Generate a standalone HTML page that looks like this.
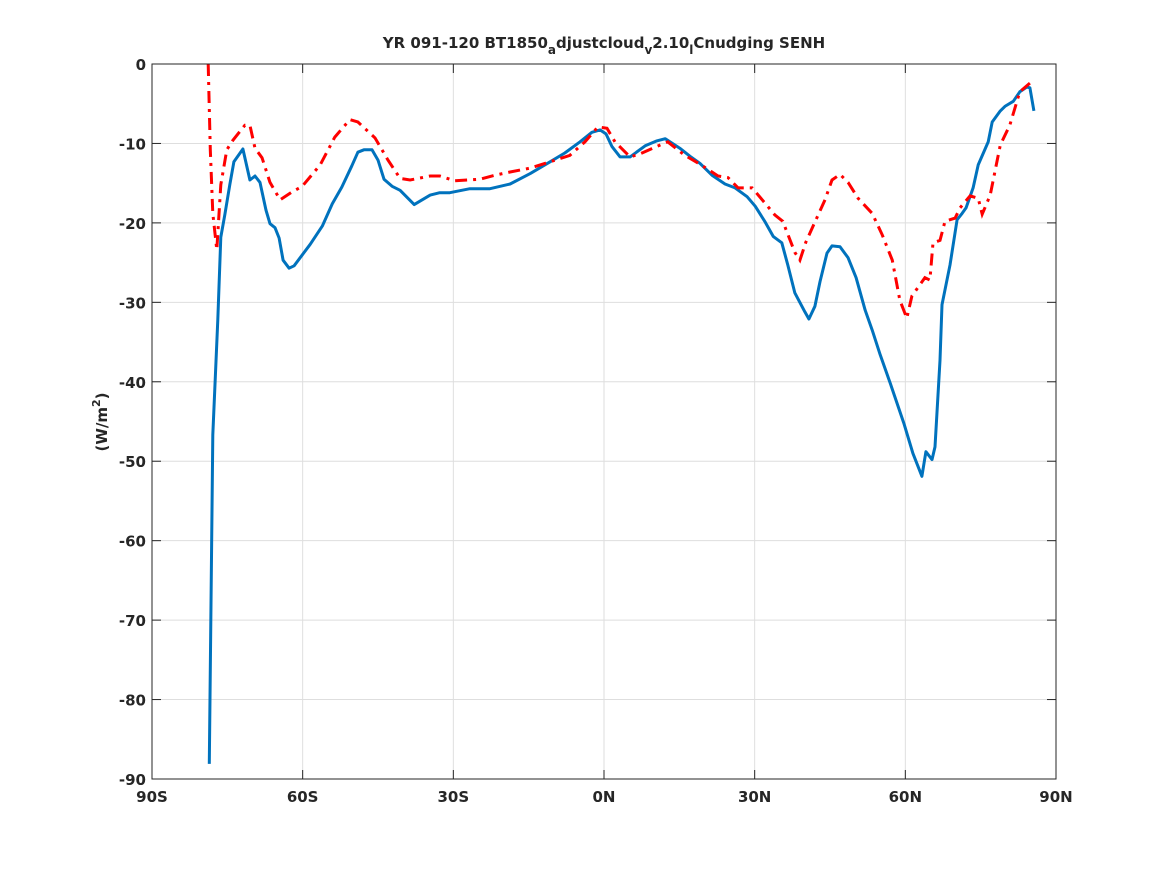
<!DOCTYPE html>
<html><head><meta charset="utf-8"><style>
body{margin:0;background:#fff;}
svg text{font-family:"DejaVu Sans","Liberation Sans",sans-serif;font-weight:bold;fill:#262626;}
</style></head><body>
<svg width="1167" height="875" viewBox="0 0 1167 875">
<rect width="1167" height="875" fill="#fff"/>
<g id="grid"></g>
<g id="series"></g>
<rect x="152" y="64" width="904" height="715" fill="none" stroke="#262626" stroke-width="1"/>
<g id="ticks"></g>
<text x="604" y="48" text-anchor="middle" font-size="15">YR 091-120 BT1850<tspan font-size="12" dy="6">a</tspan><tspan dy="-6">djustcloud</tspan><tspan font-size="12" dy="6">v</tspan><tspan dy="-6">2.10</tspan><tspan font-size="12" dy="6">l</tspan><tspan dy="-6">Cnudging SENH</tspan></text>
<text transform="translate(107,422) rotate(-90)" text-anchor="middle" font-size="15">(W/m<tspan font-size="11" dy="-7">2</tspan><tspan dy="7">)</tspan></text>
</svg>
<script>
const xTicks=[-90,-60,-30,0,30,60,90];
const xTickLabels=["90S","60S","30S","0N","30N","60N","90N"];
const yTicks=[0,-10,-20,-30,-40,-50,-60,-70,-80,-90];
const blueLat=[-78.6,-77.9,-76.9,-76.3,-75.5,-74.5,-73.7,-71.9,-70.5,-69.5,-68.5,-67.3,-66.5,-65.5,-64.7,-63.9,-62.7,-61.7,-58.5,-56.1,-54.1,-52.2,-50.2,-49,-47.8,-46.2,-45,-43.8,-42.2,-40.6,-37.8,-34.6,-32.7,-30.7,-26.7,-22.7,-18.7,-14.7,-10.7,-7.8,-4.8,-2.4,-0.8,0.4,1.6,3.2,5.2,8.2,10.4,12.2,15.1,17.1,19.1,21.5,24.1,26.1,28.5,30.1,32.1,33.7,35.4,36.6,38,40,40.8,42,43,44.4,45.4,47,48.6,50.2,52,53.4,55,57,59.7,61.5,63.3,64.1,65.3,65.9,66.9,67.3,68.9,70.3,71.3,72.1,73.5,74.5,76.5,77.3,78.9,79.9,81.5,82.8,84.2,84.8,85.6];
const blueVal=[-88.1,-46.7,-32.2,-21.8,-19,-15.2,-12.3,-10.7,-14.6,-14.1,-14.9,-18.4,-20.1,-20.6,-21.9,-24.7,-25.7,-25.4,-22.7,-20.4,-17.6,-15.5,-12.8,-11.1,-10.8,-10.8,-12.1,-14.5,-15.4,-15.9,-17.7,-16.5,-16.2,-16.2,-15.7,-15.7,-15.1,-13.8,-12.3,-11.2,-9.8,-8.6,-8.3,-8.8,-10.4,-11.7,-11.7,-10.3,-9.7,-9.4,-10.6,-11.6,-12.5,-14,-15.1,-15.6,-16.7,-17.9,-19.9,-21.7,-22.5,-25.3,-28.8,-31.2,-32.1,-30.5,-27.4,-23.8,-22.9,-23,-24.4,-26.9,-31,-33.5,-36.6,-40.2,-45.2,-49,-51.9,-48.8,-49.8,-48.2,-37.3,-30.3,-25.3,-19.6,-18.8,-18.1,-15.6,-12.7,-9.8,-7.3,-5.9,-5.3,-4.7,-3.5,-2.9,-3.0,-5.9];
const redLat=[-78.8,-78.4,-77.9,-77.1,-76.3,-75.1,-73.9,-71.5,-70.5,-69.5,-68.1,-66.5,-64.5,-62.1,-60.1,-56.5,-53.6,-50.6,-49,-45.6,-43,-40.6,-38.6,-34.6,-32.7,-29.7,-24.7,-21.7,-18.7,-14.7,-10.7,-6.8,-3.8,-1.2,0.6,2.2,5.2,7.2,11.2,12.7,16.1,19.1,22.7,24.7,26.7,29.5,31.5,34,35.6,38,39,40.2,42,44,45.4,47,48.6,50.6,53.4,55.4,57.4,58.9,60.3,61.3,63.9,64.9,65.5,66.9,67.9,69.9,70.9,72.9,74.5,75.3,76.9,78.9,80.8,82.8,84.8];
const redVal=[0,-10.8,-18.8,-23.4,-15.2,-10.8,-9.6,-7.7,-7.7,-10.6,-11.8,-14.9,-17.1,-16.1,-15.4,-12.7,-9.2,-7,-7.3,-9.3,-12.1,-14.4,-14.6,-14.1,-14.1,-14.7,-14.5,-14,-13.6,-13.1,-12.3,-11.5,-9.8,-7.9,-8.1,-9.8,-11.7,-11.3,-10.2,-9.8,-11.5,-12.6,-14.1,-14.3,-15.6,-15.6,-17.1,-19,-19.8,-23.7,-24.7,-22.4,-19.9,-17.1,-14.6,-13.9,-14.9,-16.9,-18.8,-21.5,-24.7,-29.7,-32,-29.2,-26.9,-27.2,-22.5,-22.2,-19.8,-19.4,-18.1,-16.6,-16.9,-18.9,-16.5,-10.2,-7.7,-3.5,-2.4];
const NS='http://www.w3.org/2000/svg';
const X0=152,X1=1056,Y0=64,Y1=779;
function sx(v){return X0+(v+90)/180*(X1-X0);}
function sy(v){return Y0+(0-v)/90*(Y1-Y0);}
const grid=document.getElementById('grid'),ticks=document.getElementById('ticks'),ser=document.getElementById('series');
function mk(tag,attrs,parent){const e=document.createElementNS(NS,tag);for(const k in attrs)e.setAttribute(k,attrs[k]);parent.appendChild(e);return e;}
xTicks.forEach((t,i)=>{
  const x=sx(t);
  const g=mk('line',{x1:x,x2:x,y1:Y0,y2:Y1,stroke:'#dedede','stroke-width':1},grid);
  
  
  mk('line',{x1:x,x2:x,y1:Y1,y2:Y1-9,stroke:'#262626'},ticks);
  mk('line',{x1:x,x2:x,y1:Y0,y2:Y0+9,stroke:'#262626'},ticks);
  const tx=mk('text',{x:x,y:Y1+23,'text-anchor':'middle','font-size':15},ticks);
  tx.textContent=xTickLabels[i];
  
  
});
yTicks.forEach(t=>{
  const y=sy(t);
  const g=mk('line',{x1:X0,x2:X1,y1:y,y2:y,stroke:'#dedede','stroke-width':1},grid);
  
  
  mk('line',{x1:X0,x2:X0+9,y1:y,y2:y,stroke:'#262626'},ticks);
  mk('line',{x1:X1,x2:X1-9,y1:y,y2:y,stroke:'#262626'},ticks);
  const tx=mk('text',{x:X0-6,y:y+6,'text-anchor':'end','font-size':15},ticks);
  tx.textContent=String(t);
  
  
});
function pts(la,va){return la.map((l,i)=>sx(l).toFixed(1)+','+sy(va[i]).toFixed(1)).join(' ');}
const b=mk('polyline',{points:pts(blueLat,blueVal),fill:'none',stroke:'#0072BD','stroke-width':3,'stroke-linejoin':'round'},ser);


const r=mk('polyline',{points:pts(redLat,redVal),fill:'none',stroke:'#FF0000','stroke-width':3,'stroke-dasharray':'12,6,3,6'},ser);


</script>
</body></html>
